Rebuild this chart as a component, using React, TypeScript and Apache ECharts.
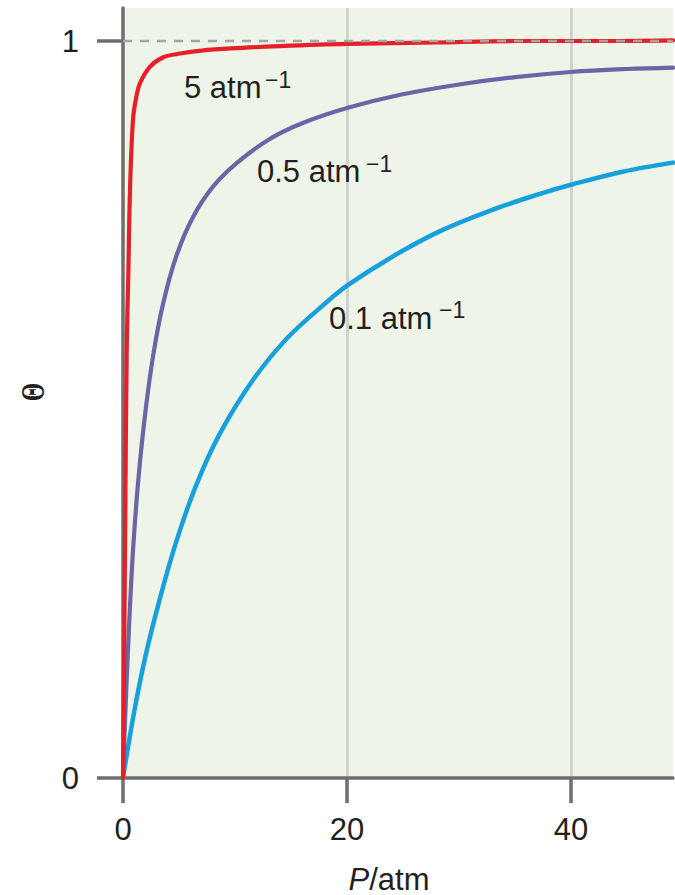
import React, { useEffect, useRef } from "react";
import * as echarts from "echarts";

// Pressure P (atm) and coverage Θ
const redP = [0, 0.1, 0.2, 0.33, 0.47, 0.63, 0.9, 1.2, 1.52, 2.4, 3.6, 5.1, 7, 9.6, 14, 20, 28, 35, 42, 49.1];
const redTheta = [0, 0.16, 0.35, 0.58, 0.68, 0.8, 0.895, 0.925, 0.943, 0.965, 0.978, 0.983, 0.987, 0.99, 0.993, 0.996, 0.998, 1.0, 1.0, 1.001];

const purpleP = [0, 0.2, 0.39, 0.63, 0.92, 1.37, 1.97, 2.71, 3.6, 4.8, 6.28, 8.07, 10.2, 13.1, 16.1, 20, 24.75, 30, 35, 40, 45, 49.1];
const purpleTheta = [0, 0.085, 0.155, 0.235, 0.315, 0.405, 0.493, 0.575, 0.645, 0.71, 0.762, 0.803, 0.835, 0.867, 0.889, 0.909, 0.927, 0.941, 0.951, 0.958, 0.962, 0.964];

const blueP = [0, 1.0, 2.0, 3.2, 4.7, 6.5, 8.6, 11.6, 14.6, 17.9, 20, 23.9, 28.3, 32.8, 37.3, 40, 44.7, 49.1];
const blueTheta = [0, 0.09, 0.165, 0.238, 0.318, 0.396, 0.466, 0.54, 0.596, 0.642, 0.668, 0.706, 0.742, 0.77, 0.793, 0.805, 0.823, 0.835];

const limitP = [0, 49.1];
const limitTheta = [1, 1];

const xTicks = [0, 20, 40];
const yTicks = [0, 1];

const curveLabels = ["5 atm", "0.5 atm", "0.1 atm"];
const superscript = "\u22121";

const zip = (xs: number[], ys: number[]) => xs.map((x, i) => [x, ys[i]]);

const FONT = '"Liberation Sans", Arial, Helvetica, sans-serif';
const TEXT = "#231f20";
const AXIS = "#6e6e6e";

export default function App() {
  const ref = useRef<HTMLDivElement>(null);
  useEffect(() => {
    if (!ref.current) return;
    const chart = echarts.init(ref.current, null, { renderer: "svg" });
    const labelPos = [
      { x: 184, y: 87, sx: 265, sy: 80 },
      { x: 257, y: 171, sx: 366, sy: 164 },
      { x: 329, y: 318, sx: 439, sy: 310 },
    ];
    const graphics: any[] = [];
    curveLabels.forEach((t, i) => {
      const p = labelPos[i];
      graphics.push({
        type: "text",
        x: p.x,
        y: p.y,
        z: 100,
        silent: true,
        style: { text: t, fontSize: 31, fontFamily: FONT, fill: TEXT, align: "left", verticalAlign: "middle" },
      });
      graphics.push({
        type: "text",
        x: p.sx,
        y: p.sy,
        z: 100,
        silent: true,
        style: { text: superscript, fontSize: 23, fontFamily: FONT, fill: TEXT, align: "left", verticalAlign: "middle" },
      });
    });
    graphics.push({
      type: "text",
      x: 33,
      y: 392,
      z: 100,
      rotation: Math.PI / 2,
      scaleX: 0.72,
      silent: true,
      style: {
        text: "\u0398",
        fontSize: 33,
        fontWeight: "bold",
        fontFamily: '"Liberation Serif", "DejaVu Serif", serif',
        fill: TEXT,
        align: "center",
        verticalAlign: "middle",
      },
    });
    graphics.push({
      type: "text",
      x: 389,
      y: 879,
      z: 100,
      silent: true,
      style: {
        text: "{i|P}/atm",
        fontSize: 31,
        fontFamily: FONT,
        fill: TEXT,
        align: "center",
        verticalAlign: "middle",
        rich: { i: { fontStyle: "italic", fontSize: 31, fontFamily: FONT, fill: TEXT } },
      },
    });

    const lineSeries = (data: number[][], color: string, width: number, z: number) => ({
      type: "line",
      data,
      showSymbol: false,
      symbol: "none",
      smooth: 0.35,
      silent: true,
      z,
      lineStyle: { color, width, cap: "round", join: "round" },
    });

    chart.setOption({
      animation: false,
      grid: {
        left: 123,
        right: 2,
        top: 8,
        bottom: 117,
        show: true,
        backgroundColor: "#eef5e8",
        borderWidth: 0,
      },
      xAxis: {
        type: "value",
        min: 0,
        max: 49.1,
        interval: 20,
        axisLine: { show: true, onZero: false, lineStyle: { color: AXIS, width: 3.5 } },
        axisTick: { show: true, customValues: xTicks, length: 25, lineStyle: { color: AXIS, width: 3.5 } },
        axisLabel: { customValues: xTicks, margin: 36, fontSize: 31, color: TEXT, fontFamily: FONT },
        splitLine: { show: true, showMinLine: false, showMaxLine: true, lineStyle: { color: "#cfd3cd", width: 3 } },
      },
      yAxis: {
        type: "value",
        min: 0,
        max: 1.0448,
        interval: 1,
        axisLine: { show: true, onZero: false, lineStyle: { color: AXIS, width: 3.5 } },
        axisTick: { show: true, customValues: yTicks, length: 26, lineStyle: { color: AXIS, width: 3.5 } },
        axisLabel: { customValues: yTicks, margin: 44, fontSize: 31, color: TEXT, fontFamily: FONT },
        splitLine: { show: false },
      },
      graphic: graphics,
      series: [
        lineSeries(zip(blueP, blueTheta), "#16a0dc", 4.5, 2),
        lineSeries(zip(purpleP, purpleTheta), "#6a65a6", 4.2, 2),
        lineSeries(zip(redP, redTheta), "#e5202b", 4.2, 2),
        {
          type: "line",
          data: zip(limitP, limitTheta),
          showSymbol: false,
          symbol: "none",
          silent: true,
          z: 3,
          lineStyle: { color: "#a4a6a3", width: 2.5, type: [9, 8] },
        },
      ],
    });
    return () => chart.dispose();
  }, []);
  return <div ref={ref} style={{ position: "absolute", left: 0, top: 0, width: 675, height: 895 }} />;
}
